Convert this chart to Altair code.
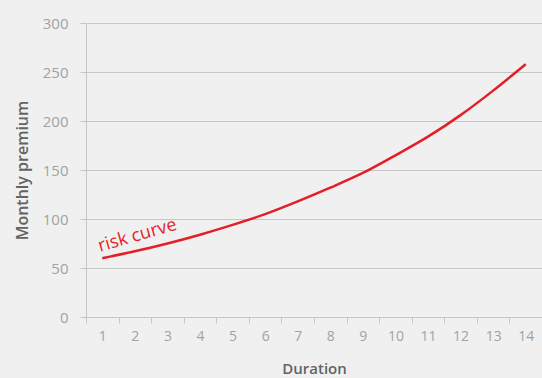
import altair as alt
import pandas as pd

# Monthly premium by policy duration (years)
durations = list(range(1, 15))
premiums = [60, 67, 75, 84, 94, 105, 118, 132, 147, 165, 184, 206, 231, 258]

y_ticks = [0, 50, 100, 150, 200, 250, 300]

label_text = ["risk curve"]
label_duration = [2]
label_premium = [81]

df = pd.DataFrame({"Duration": durations, "premium": premiums})
label_df = pd.DataFrame({"Duration": label_duration, "premium": label_premium, "text": label_text})

RED = "#e41e26"
GRID = "#c6c6c6"
FONT = "Open Sans"
TICK_LABEL = "#a2a2a2"
TITLE = "#636363"

x_enc = alt.X(
    "Duration:O",
    title="Duration",
    scale=alt.Scale(type="band", paddingInner=0, paddingOuter=0),
    axis=alt.Axis(
        labelAngle=0,
        tickBand="extent",
        grid=False,
        domainColor=GRID,
        tickColor=GRID,
        tickSize=6,
        labelColor=TICK_LABEL,
        labelFontSize=14,
        labelPadding=6,
        titleFontSize=15,
        titleFontWeight=600,
        titleColor=TITLE,
        titlePadding=18,
    ),
)

y_scale = alt.Scale(domain=[0, 300], nice=False)
y_axis = alt.Axis(
    values=y_ticks,
    grid=True,
    gridColor=GRID,
    domainColor=GRID,
    tickColor=GRID,
    tickSize=6,
    labelColor=TICK_LABEL,
    labelFontSize=15,
    labelPadding=12,
    titleFontSize=16,
    titleFontWeight=600,
    titleColor=TITLE,
    titlePadding=12,
)

line = alt.Chart(df).mark_line(color=RED, strokeWidth=2.5, interpolate="monotone").encode(
    x=x_enc,
    y=alt.Y("premium:Q", title="Monthly premium", scale=y_scale, axis=y_axis),
)

label = alt.Chart(label_df).mark_text(
    color=RED, fontSize=18, angle=344, align="center", baseline="middle", dx=3, dy=-1
).encode(
    x=alt.X("Duration:O"),
    y=alt.Y("premium:Q"),
    text="text:N",
)

chart = (
    alt.layer(line, label)
    .properties(
        width=456,
        height=294,
        background="#f0f0f0",
        padding={"left": 86, "top": 23, "right": 0, "bottom": 61},
        autosize=alt.AutoSizeParams(type="none"),
    )
    .configure_view(stroke=None)
    .configure_axis(labelFont=FONT, titleFont=FONT)
    .configure_text(font=FONT)
)

chart.save("out.html", embed_options={"renderer": "svg", "actions": False})
